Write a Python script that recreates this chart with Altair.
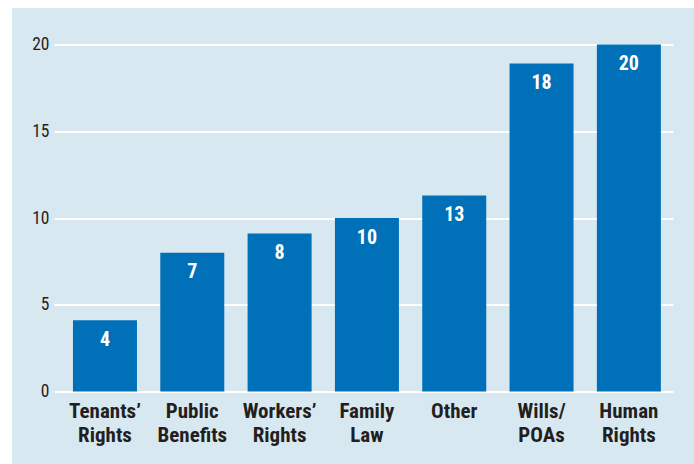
import altair as alt
import pandas as pd

categories = ["Tenants’\nRights", "Public\nBenefits", "Workers’\nRights", "Family\nLaw",
              "Other", "Wills/\nPOAs", "Human\nRights"]
heights = [4.1, 8.0, 9.1, 10.0, 11.3, 18.9, 20.0]
value_labels = ["4", "7", "8", "10", "13", "18", "20"]
y_ticks = [0, 5, 10, 15, 20]

FONT = "Liberation Sans Narrow, Arial Narrow, Roboto Condensed, sans-serif"
TEXT = "#231f20"
BAR = "#0070b8"
PANEL = "#d8e8f1"

df = pd.DataFrame({"cat": categories, "h": heights, "lab": value_labels})

x = alt.X("cat:N", sort=None, title=None,
          scale=alt.Scale(paddingInner=0.267, paddingOuter=0.178, align=0.61),
          axis=alt.Axis(labelAngle=0, labelExpr="split(datum.label, '\\n')",
                        labelFont=FONT, labelFontSize=21, labelFontWeight="bold",
                        labelColor=TEXT, labelLineHeight=24, labelPadding=9,
                        labelBaseline="top", domain=False, ticks=False, grid=False))
y = alt.Y("h:Q", title=None,
          scale=alt.Scale(domain=[0, 20], nice=False, zero=True),
          axis=alt.Axis(values=y_ticks, grid=True, gridColor="white", gridWidth=2,
                        gridOpacity=1, domain=False, ticks=False, labelPadding=5,
                        labelFont=FONT, labelFontSize=17.5, labelColor=TEXT))

bars = alt.Chart(df).mark_bar(color=BAR).encode(x=x, y=y)
texts = alt.Chart(df).mark_text(font=FONT, fontSize=20, fontWeight="bold", color="white",
                                baseline="alphabetic", dy=25.5).encode(
    x=alt.X("cat:N", sort=None), y=alt.Y("h:Q"), text="lab:N")

one = alt.Data(values=[{}])
strip_top = alt.Chart(one).mark_rect(color="white").encode(
    x=alt.value(-54), x2=alt.value(640), y=alt.value(-44.5), y2=alt.value(-36.5))
strip_left = alt.Chart(one).mark_rect(color="white").encode(
    x=alt.value(-54), x2=alt.value(-42), y=alt.value(-44.5), y2=alt.value(420))

chart = alt.layer(bars, texts, strip_top, strip_left).properties(
    width=619, height=347,
    padding={"left": 54, "top": 44.5, "right": 21, "bottom": 72.5},
    autosize=alt.AutoSizeParams(type="none"),
    background=PANEL,
).configure_view(stroke=None)

chart.save("out.html", embed_options={"renderer": "svg", "actions": False})
